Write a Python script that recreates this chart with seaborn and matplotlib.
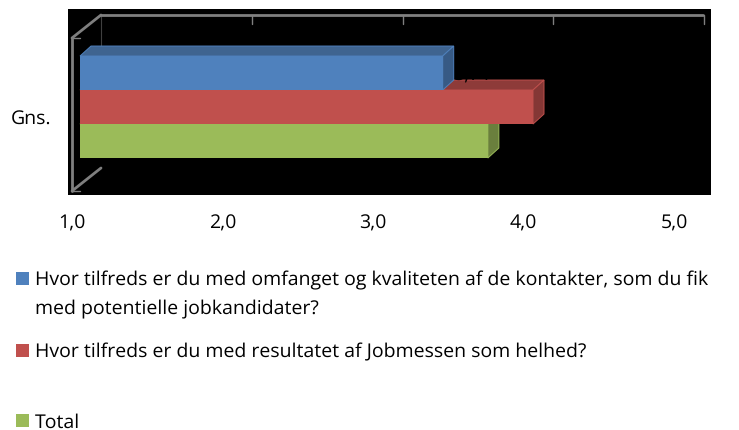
"""Horizontal pseudo-3D bars on a black wall, satisfaction scores."""

import matplotlib
matplotlib.use("Agg")

import matplotlib.pyplot as plt
import pandas as pd
import seaborn as sns
from matplotlib.patches import Polygon, Rectangle
from matplotlib.transforms import Affine2D, ScaledTranslation

category = "Gns."
series = [
    "Hvor tilfreds er du med omfanget og kvaliteten af de kontakter, som du fik\nmed potentielle jobkandidater?",
    "Hvor tilfreds er du med resultatet af Jobmessen som helhed?",
    "Total",
]
values = [3.41, 4.01, 3.71]
xticks = [1, 2, 3, 4, 5]
colors = ["#4F81BD", "#C0504D", "#9BBB59"]
top_colors = ["#3F6490", "#8E3B39", "#76903F"]
side_colors = ["#375A85", "#843735", "#6A7F3D"]

W, H = 739, 430
DEPTH_X, DEPTH_Y = 11, 10
FONT = "Open Sans"
FS = 14

sns.set_theme(style="white")
plt.rcParams["font.family"] = [FONT, "DejaVu Sans"]
plt.rcParams["text.hinting"] = "no_hinting"

fig = plt.figure(figsize=(W / 100, H / 100), dpi=100)
ax = fig.add_axes([68 / W, 1 - 195 / H, (711 - 68) / W, (195 - 9) / H])
ax.set_facecolor("black")

df = pd.DataFrame({"group": [category] * 3, "series": series, "value": values})
sns.barplot(data=df, y="group", x="value", hue="series", hue_order=series,
            palette=colors, saturation=1, gap=0, legend=False, ax=ax, zorder=3)

px_per_unit = 150.5
ax.set_xlim(1 - 12 / px_per_unit, 1 + 631 / px_per_unit)
ax.set_ylim(0.69, -0.769)
sns.despine(ax=ax, left=True, bottom=True, right=True, top=True)
ax.set_xlabel("")
ax.set_ylabel("")

# bars start at the axis minimum, not at zero
bars = list(ax.patches)
for bar, v in zip(bars, values):
    bar.set_x(1)
    bar.set_width(v - 1)
    bar.set_linewidth(0)

# screen pixels, y from the top
px = Affine2D().scale(1, -1).translate(0, H)


def to_px(x, y):
    xd, yd = ax.transData.transform((x, y))
    return xd, H - yd


# depth faces, back bars first
for i in [2, 1, 0]:
    bar = bars[i]
    y0, y1 = bar.get_y(), bar.get_y() + bar.get_height()
    x0, x1 = bar.get_x(), bar.get_x() + bar.get_width()
    l, t = to_px(x0, y0)
    r, b = to_px(x1, y1)
    top = [(l, t), (l + DEPTH_X, t - DEPTH_Y), (r + DEPTH_X, t - DEPTH_Y), (r, t)]
    side = [(r, t), (r + DEPTH_X, t - DEPTH_Y), (r + DEPTH_X, b - DEPTH_Y), (r, b)]
    ax.add_patch(Polygon(top, closed=True, transform=px, fc=top_colors[i],
                         ec=colors[i], lw=0.7, zorder=2, clip_on=False))
    ax.add_patch(Polygon(side, closed=True, transform=px, fc=side_colors[i],
                         ec=colors[i], lw=0.7, zorder=2, clip_on=False))

# data label that sits behind the bars
ax.text(472, 76, f"{values[2]:.2f}".replace(".", ","), transform=px, color="black",
        fontsize=FS, ha="center", va="center", zorder=2.5)

# wall frame
gray = "#7F7F7F"
frame = [
    ((101, 15), (703, 15), 2.0),
    ((72, 38), (101, 15), 2.0),
    ((72, 38), (72, 191), 2.0),
    ((72, 191), (101, 168), 2.0),
    ((72, 38), (80, 38), 1.0),
    ((72, 191), (80, 191), 1.0),
]
for (xa, ya), (xb, yb), lw in frame:
    ax.plot([xa, xb], [ya, yb], transform=px, color=gray, lw=lw, zorder=1.5,
            clip_on=False, solid_capstyle="round")
ax.plot([101, 101], [15, 47], transform=px, color="#404040", lw=0.8, zorder=1.4)
for t in xticks[1:]:
    xp, _ = to_px(t, 0)
    ax.plot([xp + 21.5] * 2, [15, 24], transform=px, color=gray, lw=1.0, zorder=1.5)

# tick labels sit on the front wall, left of the bar start
ax.set_xticks(xticks)
ax.set_xticklabels([f"{t},0" for t in xticks], fontsize=FS, color="black")
ax.tick_params(axis="x", length=0, pad=14)
for lab in ax.get_xticklabels():
    lab.set_transform(lab.get_transform() + ScaledTranslation(-8 / 100, 0, fig.dpi_scale_trans))
ax.set_yticks([0])
ax.set_yticklabels([category], fontsize=FS, color="black")
ax.tick_params(axis="y", length=0, pad=12)
for lab in ax.get_yticklabels():
    lab.set_transform(lab.get_transform() + ScaledTranslation(0, -10 / 100, fig.dpi_scale_trans))

# legend, one slot per entry
legend_y = [279, 351, 421]
for name, col, y in zip(series, colors, legend_y):
    fig.add_artist(Rectangle((16, y - 7), 13, 13, transform=px, fc=col, ec="none"))
    fig.text(35 / W, 1 - (y - 8) / H, name, fontsize=FS, color="black", ha="left", va="top",
             linespacing=1.68)

fig.savefig("out.png", dpi=100)
